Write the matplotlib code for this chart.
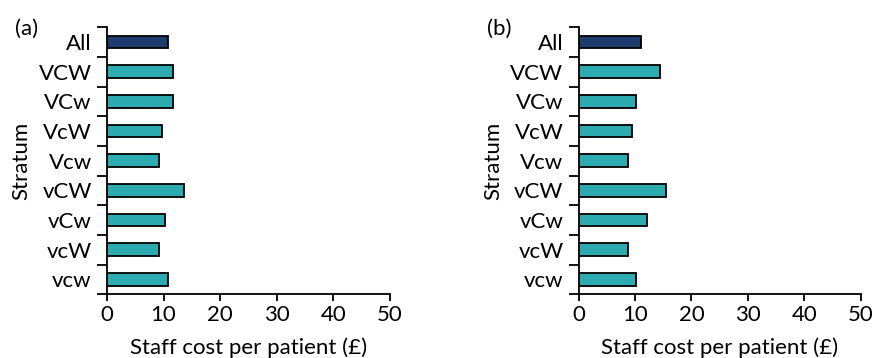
import numpy as np
import matplotlib.pyplot as plt
from matplotlib.ticker import FixedLocator

plt.rcParams['font.family'] = ['Lato', 'DejaVu Sans']

# ============================================================
# DATA
# ============================================================
strata = ['All', 'VCW', 'VCw', 'VcW', 'Vcw', 'vCW', 'vCw', 'vcW', 'vcw']
cost_a = [10.7, 11.6, 11.6, 9.7, 9.25, 13.6, 10.2, 9.25, 10.7]
cost_b = [11.1, 14.5, 10.1, 9.5, 8.7, 15.5, 12.1, 8.7, 10.1]
panel_labels = ['(a)', '(b)']
x_ticks = [0, 10, 20, 30, 40, 50]

TEAL = '#2CABB0'
NAVY = '#1C3C6E'
FS = 16

fig = plt.figure(figsize=(8.74, 3.58), dpi=100)
ax_a = fig.add_axes([0.1224, 0.178, 0.3238, 0.746])
ax_b = fig.add_axes([0.6621, 0.178, 0.3227, 0.746])

for ax, vals, tag in [(ax_a, cost_a, panel_labels[0]), (ax_b, cost_b, panel_labels[1])]:
    n = len(strata)
    y = np.arange(n)[::-1]
    colors = [NAVY] + [TEAL] * (n - 1)
    ax.barh(y, vals, height=0.43, color=colors, edgecolor='black', linewidth=1.3)

    ax.set_xlim(0, 50)
    ax.set_ylim(-0.5, n - 0.5)
    ax.set_xticks(x_ticks)
    ax.set_yticks(y)
    ax.set_yticklabels(strata)
    # ticks sit between categories
    ax.yaxis.set_minor_locator(FixedLocator(np.arange(n + 1) - 0.5))
    ax.tick_params(axis='y', which='major', length=0, labelsize=FS, pad=11)
    ax.tick_params(axis='y', which='minor', length=7, width=1.3)
    ax.tick_params(axis='x', length=5, width=1.3, labelsize=FS, pad=3)

    for s in ['top', 'right']:
        ax.spines[s].set_visible(False)
    for s in ['left', 'bottom']:
        ax.spines[s].set_linewidth(1.3)

    ax.set_xlabel('Staff cost per patient (£)', fontsize=FS, labelpad=9)
    ax.set_ylabel('Stratum', fontsize=FS, labelpad=5)
    ax.text(-0.325, 0.995, tag, transform=ax.transAxes, fontsize=FS,
            ha='left', va='center')

plt.savefig('out.png', dpi=100)
